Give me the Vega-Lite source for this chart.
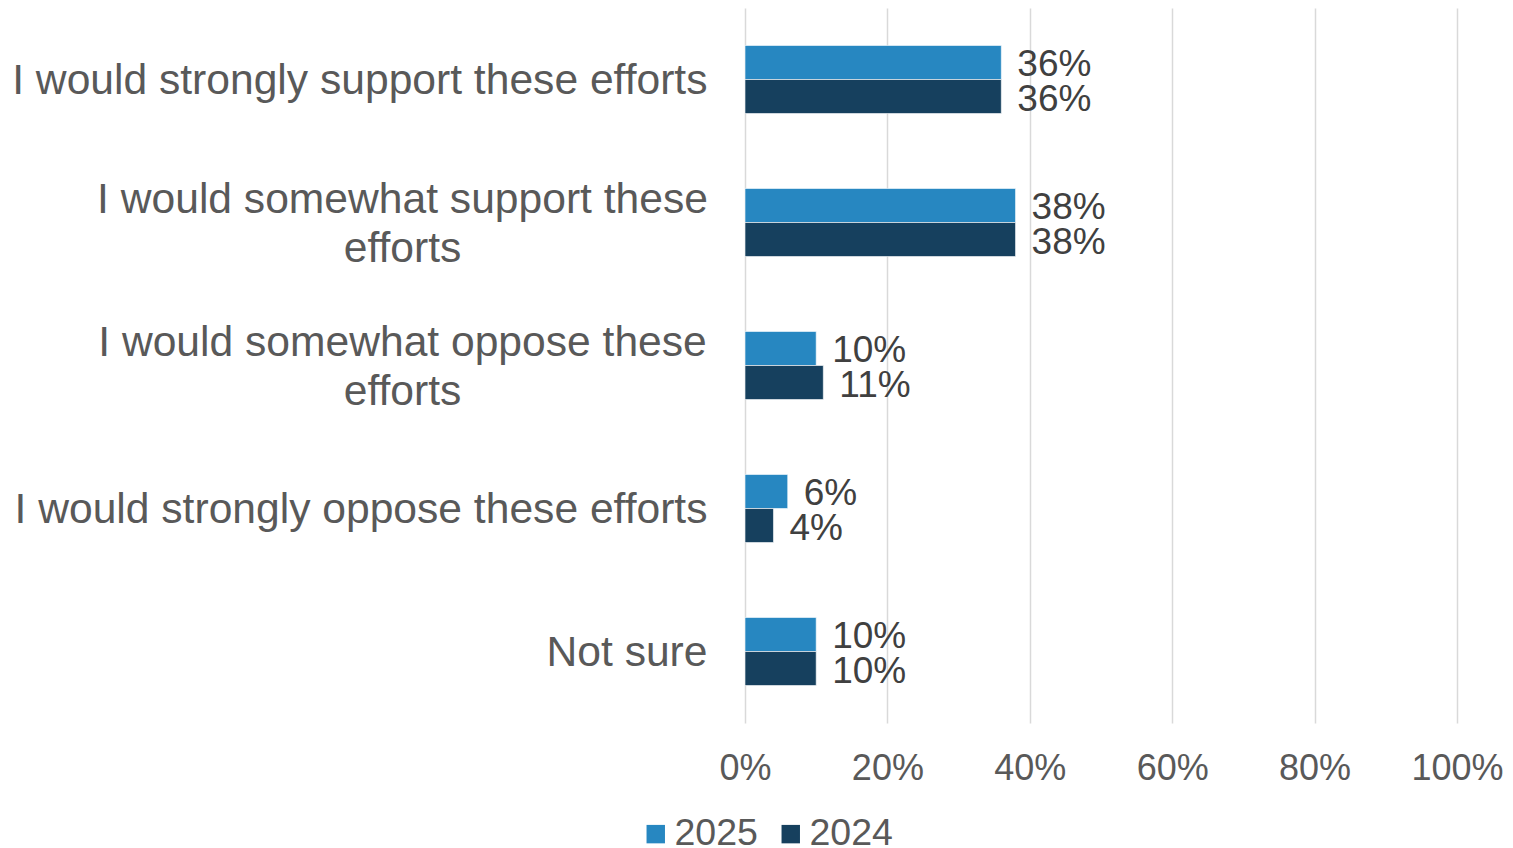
{
  "$schema": "https://vega.github.io/schema/vega-lite/v6.json",
  "autosize": "none",
  "width": 712,
  "height": 715,
  "padding": {"left": 745, "top": 8, "right": 56, "bottom": 125},
  "background": "white",
  "config": {
    "view": {"stroke": null},
    "font": "Liberation Sans"
  },
  "data": {
    "values": [
      {"response": "I would strongly support these efforts", "year": "2025", "share": 0.36},
      {"response": "I would strongly support these efforts", "year": "2024", "share": 0.36},
      {"response": "I would somewhat support these efforts", "year": "2025", "share": 0.38},
      {"response": "I would somewhat support these efforts", "year": "2024", "share": 0.38},
      {"response": "I would somewhat oppose these efforts", "year": "2025", "share": 0.10},
      {"response": "I would somewhat oppose these efforts", "year": "2024", "share": 0.11},
      {"response": "I would strongly oppose these efforts", "year": "2025", "share": 0.06},
      {"response": "I would strongly oppose these efforts", "year": "2024", "share": 0.04},
      {"response": "Not sure", "year": "2025", "share": 0.10},
      {"response": "Not sure", "year": "2024", "share": 0.10}
    ]
  },
  "encoding": {
    "y": {
      "field": "response",
      "type": "nominal",
      "sort": null,
      "scale": {"paddingInner": 0.524, "paddingOuter": 0.262},
      "axis": {
        "title": null,
        "domain": false,
        "ticks": false,
        "grid": false,
        "labelFont": "Liberation Sans",
        "labelFontSize": 42.6,
        "labelColor": "#595959",
        "labelLimit": 900,
        "labelLineHeight": 49,
        "labelBaseline": "middle",
        "labelExpr": "datum.label == 'I would somewhat support these efforts' ? ['I would somewhat support these', 'efforts'] : datum.label == 'I would somewhat oppose these efforts' ? ['I would somewhat oppose these', 'efforts'] : datum.label",
        "labelAlign": {"condition": {"test": "datum.value == 'I would somewhat support these efforts' || datum.value == 'I would somewhat oppose these efforts'", "value": "center"}, "value": "right"},
        "labelPadding": {"condition": {"test": "datum.value == 'I would somewhat support these efforts' || datum.value == 'I would somewhat oppose these efforts'", "value": 343}, "value": 38},
        "labelOffset": {"condition": {"test": "datum.value == 'I would somewhat support these efforts' || datum.value == 'I would somewhat oppose these efforts'", "value": -23}, "value": 1}
      }
    },
    "yOffset": {
      "field": "year",
      "type": "nominal",
      "scale": {"domain": ["2025", "2024"], "paddingInner": 0, "paddingOuter": 0}
    },
    "x": {
      "field": "share",
      "type": "quantitative",
      "scale": {"domain": [0, 1]},
      "axis": {
        "title": null,
        "format": ".0%",
        "values": [0, 0.2, 0.4, 0.6, 0.8, 1],
        "domain": false,
        "ticks": false,
        "grid": true,
        "gridColor": "#d9d9d9",
        "gridWidth": 1.5,
        "labelFont": "Liberation Sans",
        "labelFontSize": 36,
        "labelColor": "#595959",
        "labelPadding": 28,
        "labelFlush": false
      }
    }
  },
  "layer": [
    {
      "mark": {"type": "bar", "stroke": "#ffffff", "strokeWidth": 0.6},
      "encoding": {
        "color": {
          "field": "year",
          "type": "nominal",
          "scale": {"domain": ["2025", "2024"], "range": ["#2787C1", "#16405E"]},
          "legend": {
            "title": null,
            "orient": "none",
            "direction": "horizontal",
            "legendX": -108,
            "legendY": 807,
            "symbolType": "square",
            "symbolSize": 340,
            "symbolStrokeWidth": 0,
            "labelFont": "Liberation Sans",
            "labelFontSize": 37.5,
            "labelColor": "#595959",
            "labelOffset": 0,
            "columnPadding": 14
          }
        }
      }
    },
    {
      "mark": {
        "type": "text",
        "align": "left",
        "baseline": "middle",
        "dx": 16,
        "dy": 3,
        "font": "Liberation Sans",
        "fontSize": 37,
        "color": "#404040"
      },
      "encoding": {
        "text": {"field": "share", "type": "quantitative", "format": ".0%"}
      }
    }
  ]
}
